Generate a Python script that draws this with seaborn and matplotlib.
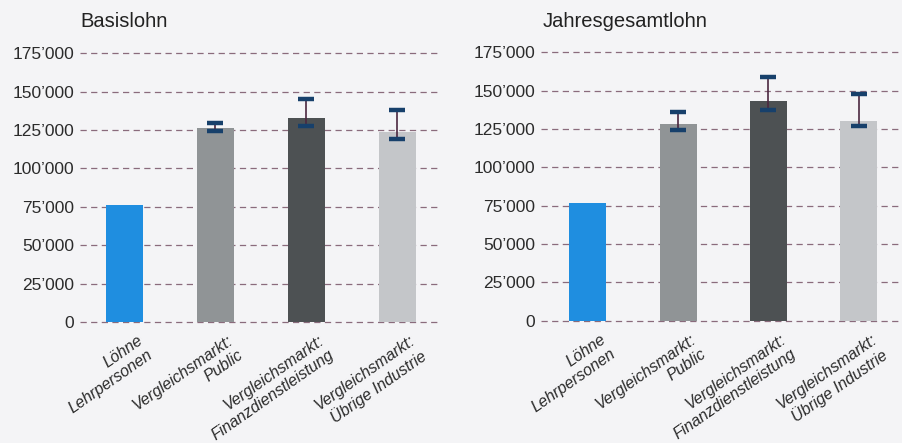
import matplotlib
matplotlib.use("Agg")
import matplotlib.pyplot as plt
import matplotlib.transforms as mtransforms
import seaborn as sns
import pandas as pd
import numpy as np
from matplotlib.ticker import FuncFormatter

categories = ["Löhne\nLehrpersonen", "Vergleichsmarkt:\nPublic",
              "Vergleichsmarkt:\nFinanzdienstleistung", "Vergleichsmarkt:\nÜbrige Industrie"]
basis_values = [76500, 126500, 132500, 124000]
basis_low = [np.nan, 124500, 127700, 119300]
basis_high = [np.nan, 129800, 145300, 137900]
jahres_values = [77000, 128300, 143300, 130400]
jahres_low = [np.nan, 124600, 137600, 126800]
jahres_high = [np.nan, 136300, 158700, 147600]
yticks = [0, 25000, 50000, 75000, 100000, 125000, 150000, 175000]
titles = ["Basislohn", "Jahresgesamtlohn"]

bar_colors = ["#1f8ee0", "#909496", "#4d5153", "#c4c6c9"]
bg = "#f4f4f6"

sns.set_theme(style="white")
plt.rcParams['font.family'] = ['Liberation Sans', 'DejaVu Sans']

fig = plt.figure(figsize=(9.02, 4.43), dpi=100, facecolor=bg)
axes_pos = [[0.0887, 0.273, 0.397, 0.607], [0.5998, 0.276, 0.4002, 0.606]]
xlims = [(-0.49, 3.45), (-0.52, 3.48)]
data_sets = [(basis_values, basis_low, basis_high), (jahres_values, jahres_low, jahres_high)]

fmt = FuncFormatter(lambda v, p: f"{int(v):,}".replace(",", "\u2019"))

for i in range(2):
    ax = fig.add_axes(axes_pos[i])
    ax.set_facecolor(bg)
    vals, low, high = data_sets[i]
    df = pd.DataFrame({"cat": categories, "val": vals})
    sns.barplot(data=df, x="cat", y="val", hue="cat", palette=bar_colors,
                legend=False, width=0.41, ax=ax, zorder=2, saturation=1,
                edgecolor="none", linewidth=0)
    ax.set_ylim(0, 175000)
    ax.set_xlim(*xlims[i])
    ax.set_yticks(yticks)
    ax.yaxis.set_major_formatter(fmt)
    ax.grid(axis="y", linestyle=(0, (5, 3.5)), color="#8a6b7c", linewidth=0.9, zorder=0)
    for gl in ax.get_ygridlines():
        gl.set_clip_on(False)
    ax.set_axisbelow(True)
    for s in ax.spines.values():
        s.set_visible(False)
    ax.tick_params(axis="y", length=0, pad=4, labelsize=12.5, labelcolor="#2b2b2b")
    ax.tick_params(axis="x", length=0, pad=8)
    ax.set_xlabel("")
    ax.set_ylabel("")
    # error bars
    idx = [j for j in range(4) if not np.isnan(low[j])]
    lo = np.array([low[j] for j in idx])
    hi = np.array([high[j] for j in idx])
    ax.vlines(idx, lo, hi, color="#4b2740", linewidth=1.2, zorder=3)
    ax.plot(idx, lo, linestyle="none", marker="_", markersize=11, markeredgewidth=3.2,
            color="#17406b", zorder=4)
    ax.plot(idx, hi, linestyle="none", marker="_", markersize=11, markeredgewidth=3.2,
            color="#17406b", zorder=4)
    ax.set_xticks(range(4))
    ax.set_xticklabels(categories, rotation=35, ha="right", rotation_mode="anchor",
                       fontsize=11.5, fontstyle="italic", color="#2b2b2b",
                       multialignment="right", linespacing=1.2)
    offset = mtransforms.ScaledTranslation(0.12, 0, fig.dpi_scale_trans)
    for lab in ax.get_xticklabels():
        lab.set_transform(lab.get_transform() + offset)
    fig.text(axes_pos[i][0] - (0.0 if i == 0 else -0.002), 0.952, titles[i],
             fontsize=14.5, color="#222222", ha="left", va="center")

fig.savefig("out.png", dpi=100, facecolor=bg)
